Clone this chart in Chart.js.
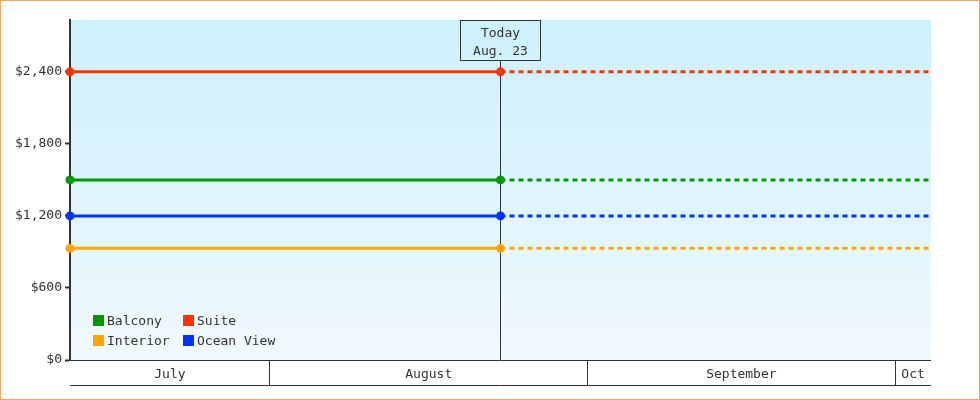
<!DOCTYPE html>
<html>
<head>
<meta charset="utf-8">
<script src="https://cdn.jsdelivr.net/npm/chart.js@4/dist/chart.umd.min.js"></script>
<style>
  body { margin:0; background:#fff; }
  #wrap { position:relative; width:980px; height:400px; }
  #frame { position:absolute; left:0; top:0; width:980px; height:400px; box-sizing:border-box; border:1px solid #eeaa66; pointer-events:none; }
</style>
</head>
<body>
<div id="wrap">
  <canvas id="c" width="980" height="400"></canvas>
  <div id="frame"></div>
</div>
<script>
// days counted from July 1
const xDays = [11.5, 53.5, 95.5];
const today = 53.5;
const todayLabel = ['Today', 'Aug. 23'];
const months = ['July', 'August', 'September', 'Oct'];
const monthStarts = [0, 31, 62, 92];
const yTicks = [0, 600, 1200, 1800, 2400];
const yMax = 2832;

const balcony = [1500, 1500, 1500];
const suite = [2400, 2400, 2400];
const interior = [930, 930, 930];
const oceanView = [1200, 1200, 1200];

const FONT = '13px "DejaVu Sans Mono", monospace';
const INK = '#333';

function series(label, values, color) {
  return {
    label,
    data: values.map((v, i) => ({x: xDays[i], y: v})),
    borderColor: color,
    backgroundColor: color,
    borderWidth: 3,
    pointRadius: xDays.map(d => d <= today ? 4.5 : 0),
    pointHoverRadius: 4.5,
    pointBorderWidth: 0,
    clip: false,
    segment: { borderDash: ctx => ctx.p0.parsed.x >= today ? [5, 4] : undefined }
  };
}

const decor = {
  id: 'decor',
  beforeDraw(chart) {
    const {ctx, chartArea: a} = chart;
    const g = ctx.createLinearGradient(0, a.top, 0, a.bottom);
    g.addColorStop(0, '#ccf0fd');
    g.addColorStop(1, '#f1f9fe');
    ctx.save();
    ctx.fillStyle = g;
    ctx.fillRect(a.left, a.top, a.right - a.left, a.bottom - a.top);
    ctx.restore();
  },
  beforeDatasetsDraw(chart) {
    const {ctx, chartArea: a} = chart;
    // today marker
    const x = Math.floor(chart.scales.x.getPixelForValue(today)) + 0.5;
    ctx.save();
    ctx.strokeStyle = INK;
    ctx.lineWidth = 1;
    ctx.beginPath();
    ctx.moveTo(x, a.top + 40);
    ctx.lineTo(x, a.bottom);
    ctx.stroke();
    ctx.strokeRect(x - 40, a.top + 0.5, 80, 40);
    ctx.fillStyle = INK;
    ctx.font = FONT;
    ctx.textAlign = 'center';
    ctx.textBaseline = 'middle';
    ctx.fillText(todayLabel[0], x, a.top + 14);
    ctx.fillText(todayLabel[1], x, a.top + 32);
    ctx.restore();
  },
  afterDraw(chart) {
    const {ctx, chartArea: a} = chart;
    const sx = chart.scales.x;
    ctx.save();
    ctx.strokeStyle = INK;
    ctx.lineWidth = 1;
    ctx.font = FONT;
    ctx.fillStyle = INK;
    ctx.textAlign = 'center';
    ctx.textBaseline = 'middle';
    const top = a.bottom + 0.5, bot = a.bottom + 25.5;
    ctx.beginPath();
    ctx.moveTo(a.left, top); ctx.lineTo(a.right, top);
    ctx.moveTo(a.left, bot); ctx.lineTo(a.right, bot);
    ctx.stroke();
    months.forEach((m, i) => {
      const s = Math.max(monthStarts[i], sx.min);
      const e = Math.min(i + 1 < monthStarts.length ? monthStarts[i + 1] : sx.max, sx.max);
      const x0 = sx.getPixelForValue(s), x1 = sx.getPixelForValue(e);
      if (monthStarts[i] > sx.min) {
        const lx = Math.floor(x0) + 0.5;
        ctx.beginPath(); ctx.moveTo(lx, top); ctx.lineTo(lx, bot); ctx.stroke();
      }
      ctx.fillText(m, (x0 + x1) / 2, a.bottom + 15);
    });

    // legend inside plot, two columns
    const ds = chart.data.datasets;
    ds.forEach((d, i) => {
      const col = i % 2, row = Math.floor(i / 2);
      const lx = a.left + 23 + col * 90, ly = a.bottom - 45 + row * 20;
      ctx.fillStyle = d.borderColor;
      ctx.fillRect(lx, ly, 11, 11);
      ctx.fillStyle = INK;
      ctx.textAlign = 'left';
      ctx.fillText(d.label, lx + 14, ly + 7);
    });
    ctx.restore();
  }
};

new Chart(document.getElementById('c'), {
  type: 'line',
  data: {
    datasets: [
      series('Balcony', balcony, '#009900'),
      series('Suite', suite, '#ff3300'),
      series('Interior', interior, '#ffa500'),
      series('Ocean View', oceanView, '#0033ff')
    ]
  },
  options: {
    responsive: false,
    animation: false,
    layout: { padding: { left: 0, top: 20, right: 49, bottom: 40 } },
    plugins: { legend: { display: false }, tooltip: { enabled: false } },
    scales: {
      x: { type: 'linear', min: xDays[0], max: xDays[xDays.length - 1], display: false },
      y: {
        min: 0, max: yMax,
        afterFit: s => { s.width = 70; },
        afterBuildTicks: s => { s.ticks = yTicks.map(v => ({value: v})); },
        border: { color: INK, width: 2 },
        grid: { drawOnChartArea: false, drawTicks: true, tickLength: 5, tickWidth: 2, tickColor: INK },
        ticks: {
          color: INK, padding: 3,
          font: { family: '"DejaVu Sans Mono", monospace', size: 13 },
          callback: v => '$' + Number(v).toLocaleString('en-US')
        }
      }
    }
  },
  plugins: [decor]
});
</script>
</body>
</html>
